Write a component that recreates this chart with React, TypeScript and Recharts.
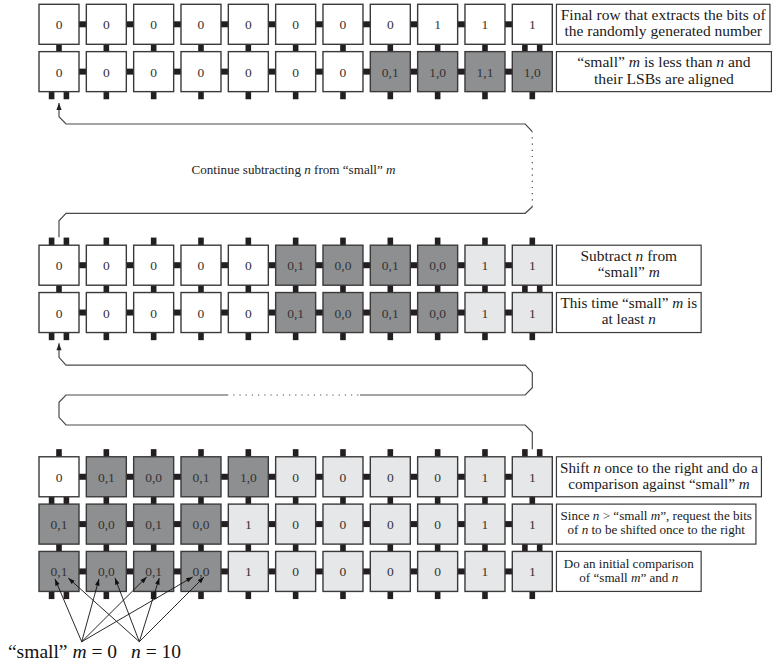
import React from 'react';
import { ScatterChart, Scatter, XAxis, YAxis } from 'recharts';

// ---------- layout / scale constants ----------
const W = 773;
const H = 667;
const PITCH = 47.33; // px per grid unit (same on both axes)
const ORIGIN_X = 59;
const ORIGIN_Y = 24.3;
const X_DOMAIN: [number, number] = [-ORIGIN_X / PITCH, (W - ORIGIN_X) / PITCH];
const Y_DOMAIN: [number, number] = [-ORIGIN_Y / PITCH, (H - ORIGIN_Y) / PITCH];

// ---------- data ----------
const COLUMNS = [0, 1, 2, 3, 4, 5, 6, 7, 8, 9, 10];
const ROW_LEVELS = [0, 1, 5.09, 6.09, 9.56, 10.56, 11.56];

const CELL_VALUES = [
  ['0', '0', '0', '0', '0', '0', '0', '0', '1', '1', '1'],
  ['0', '0', '0', '0', '0', '0', '0', '0,1', '1,0', '1,1', '1,0'],
  ['0', '0', '0', '0', '0', '0,1', '0,0', '0,1', '0,0', '1', '1'],
  ['0', '0', '0', '0', '0', '0,1', '0,0', '0,1', '0,0', '1', '1'],
  ['0', '0,1', '0,0', '0,1', '1,0', '0', '0', '0', '0', '1', '1'],
  ['0,1', '0,0', '0,1', '0,0', '1', '0', '0', '0', '0', '1', '1'],
  ['0,1', '0,0', '0,1', '0,0', '1', '0', '0', '0', '0', '1', '1'],
];
const CELL_SHADES = [
  'wwwwwwwwwww',
  'wwwwwwwdddd',
  'wwwwwddddll',
  'wwwwwddddll',
  'wddddllllll',
  'ddddlllllll',
  'ddddlllllll',
];
const HAS_TOP_STUB = [false, false, true, false, true, false, false];
const DOUBLE_TOP_COL = [-1, -1, 0, -1, 10, -1, -1];
const DOUBLE_BOTTOM_COL = [10, 0, 10, 0, 0, 10, 0];

const ROW_LABELS = [
  ['Final row that extracts the bits of', 'the randomly generated number'],
  ['\u201csmall\u201d *m* is less than *n* and', 'their LSBs are aligned'],
  ['Subtract *n* from', '\u201csmall\u201d *m*'],
  ['This time \u201csmall\u201d *m* is', 'at least *n*'],
  ['Shift *n* once to the right and do a', 'comparison against \u201csmall\u201d *m*'],
  ['Since *n* > \u201csmall *m*\u201d, request the bits', 'of *n* to be shifted once to the right'],
  ['Do an initial comparison', 'of \u201csmall *m*\u201d and *n*'],
];
const LABEL_COL = 10.51;

const LOOP_NOTE = 'Continue subtracting *n* from \u201csmall\u201d *m*';
const LOOP_NOTE_POS = { x: 4.955, y: 3.078 };

// snake paths (grid units)
const UPPER_SOLID_A = [
  { x: 0, y: 4.5 }, { x: 0, y: 4.15 }, { x: 0.148, y: 3.993 }, { x: 9.85, y: 3.993 }, { x: 10, y: 3.854 },
];
const UPPER_DOTTED = [{ x: 10, y: 3.854 }, { x: 10, y: 2.269 }];
const UPPER_SOLID_B = [
  { x: 10, y: 2.269 }, { x: 9.85, y: 2.106 }, { x: 0.148, y: 2.106 }, { x: 0, y: 1.952 }, { x: 0, y: 1.663 },
];
const LOWER_SOLID_A = [
  { x: 10, y: 8.977 }, { x: 10, y: 8.62 }, { x: 9.85, y: 8.466 }, { x: 0.148, y: 8.466 }, { x: 0, y: 8.303 },
  { x: 0, y: 7.986 }, { x: 0.148, y: 7.832 }, { x: 3.55, y: 7.832 },
];
const LOWER_DOTTED = [{ x: 3.55, y: 7.832 }, { x: 6.36, y: 7.832 }];
const LOWER_SOLID_B = [
  { x: 6.36, y: 7.832 }, { x: 9.85, y: 7.832 }, { x: 10, y: 7.678 }, { x: 10, y: 7.361 }, { x: 9.85, y: 7.199 },
  { x: 0.148, y: 7.199 }, { x: 0, y: 7.036 }, { x: 0, y: 6.74 },
];

// pointers from caption to cells
const M_SOURCE = { x: 0.48, y: 13.045 };
const N_SOURCE = { x: 1.697, y: 13.045 };
const M_TARGETS = [
  { x: -0.085, y: 11.72 }, { x: 0.845, y: 11.72 }, { x: 1.853, y: 11.677 }, { x: 2.825, y: 11.677 },
];
const N_TARGETS = [
  { x: 0.196, y: 11.7 }, { x: 1.183, y: 11.7 }, { x: 2.119, y: 11.7 }, { x: 3.064, y: 11.677 },
];
const CAPTION_POS = { x: -1.078, y: 13.38 };

// ---------- styles ----------
const FONT = '"Liberation Serif", "Times New Roman", serif';
const CONNECT = '#231f20';
const BORDER = '#3a3a3a';
const LINE = '#4a4a4a';
const SHADE_FILL: Record<string, string> = { w: '#ffffff', d: '#8e8f91', l: '#e6e7e8' };
const LABEL_WIDTHS = [213.5, 215, 144.7, 144.7, 205, 199.5, 144.7];
const LABEL_FONTS = [15.5, 15.6, 15.4, 15.2, 15.1, 13.1, 13.1];
const LABEL_LINE_H = [16.5, 16.2, 15.8, 15.8, 16, 13.8, 14.2];
const CELL = 40;

// ---------- helpers ----------
function rich(s: string) {
  return s.split('*').map((seg, i) =>
    i % 2 === 1 ? (
      <tspan key={i} fontStyle="italic">{seg}</tspan>
    ) : (
      <tspan key={i}>{seg}</tspan>
    )
  );
}

function withHead(pts: { x: number; y: number }[]) {
  const n = pts.length;
  const last = pts[n - 1];
  const prev = pts[n - 2];
  return pts.map((p, i) =>
    i === n - 1 ? { ...p, head: true, dx: last.x - prev.x, dy: last.y - prev.y } : { ...p }
  );
}

const cellData = ROW_LEVELS.flatMap((level, r) =>
  COLUMNS.map((c) => ({
    x: c,
    y: level,
    row: r,
    col: c,
    value: CELL_VALUES[r][c],
    shade: CELL_SHADES[r][c],
  }))
);

const labelData = ROW_LEVELS.map((level, r) => ({ x: LABEL_COL, y: level, row: r }));

function CellShape(props: any) {
  const { cx, cy, payload } = props;
  if (cx == null || cy == null) return <g />;
  const half = CELL / 2;
  const gap = PITCH - CELL;
  const parts: any[] = [];
  const r = payload.row;
  const c = payload.col;
  if (c < COLUMNS.length - 1) {
    parts.push(<rect key="h" x={cx + half - 0.5} y={cy - 3} width={gap + 1} height={6} fill={CONNECT} />);
  }
  const xs = (dbl: boolean) => (dbl ? [cx - 7.4, cx + 7.4] : [cx]);
  xs(DOUBLE_BOTTOM_COL[r] === c).forEach((sx, i) =>
    parts.push(<rect key={'b' + i} x={sx - 2.8} y={cy + half - 0.5} width={5.6} height={gap + 0.8} fill={CONNECT} />)
  );
  if (HAS_TOP_STUB[r]) {
    xs(DOUBLE_TOP_COL[r] === c).forEach((sx, i) =>
      parts.push(
        <rect key={'t' + i} x={sx - 2.8} y={cy - half - gap - 0.3} width={5.6} height={gap + 0.8} fill={CONNECT} />
      )
    );
  }
  parts.push(
    <rect
      key="c"
      x={cx - half}
      y={cy - half}
      width={CELL}
      height={CELL}
      fill={SHADE_FILL[payload.shade]}
      stroke={BORDER}
      strokeWidth={1.4}
    />
  );
  parts.push(
    <text key="v" x={cx} y={cy + 5} textAnchor="middle" fontFamily={FONT} fontSize={13.5} fill="#333">
      {payload.value}
    </text>
  );
  return <g>{parts}</g>;
}

function LabelShape(props: any) {
  const { cx, cy, payload } = props;
  if (cx == null || cy == null) return <g />;
  const r = payload.row;
  const w = LABEL_WIDTHS[r];
  const fs = LABEL_FONTS[r];
  const lh = LABEL_LINE_H[r];
  return (
    <g>
      <rect x={cx} y={cy - CELL / 2} width={w} height={CELL} fill="#fff" stroke={BORDER} strokeWidth={1.2} />
      {ROW_LABELS[r].map((ln, i) => (
        <text
          key={i}
          x={cx + w / 2}
          y={cy + (i - 0.5) * lh + fs * 0.25}
          textAnchor="middle"
          fontFamily={FONT}
          fontSize={fs}
          fill="#1a1a1a"
        >
          {rich(ln)}
        </text>
      ))}
    </g>
  );
}

function headShape(len: number, hw: number, color: string) {
  return (props: any) => {
    const { cx, cy, payload } = props;
    if (!payload || !payload.head || cx == null) return <g />;
    const d = Math.hypot(payload.dx, payload.dy) || 1;
    const ux = payload.dx / d;
    const uy = payload.dy / d;
    const bx = cx - ux * len;
    const by = cy - uy * len;
    const pts = `${cx},${cy} ${bx - uy * hw},${by + ux * hw} ${bx + uy * hw},${by - ux * hw}`;
    return <polygon points={pts} fill={color} />;
  };
}

const emptyShape = () => <g />;

function NoteShape(props: any) {
  const { cx, cy } = props;
  if (cx == null) return <g />;
  return (
    <text x={cx} y={cy + 4} textAnchor="middle" fontFamily={FONT} fontSize={13.1} fill="#222">
      {rich(LOOP_NOTE)}
    </text>
  );
}

function CaptionShape(props: any) {
  const { cx, cy } = props;
  if (cx == null) return <g />;
  return (
    <text x={cx} y={cy} textAnchor="start" fontFamily={FONT} fontSize={19.5} fill="#111">
      <tspan>{'\u201csmall\u201d '}</tspan>
      <tspan fontStyle="italic">m</tspan>
      <tspan>{' = 0'}</tspan>
      <tspan dx={14} fontStyle="italic">n</tspan>
      <tspan>{' = 10'}</tspan>
    </text>
  );
}

const solidLine = { stroke: LINE, strokeWidth: 1.2 };
const dottedLine = { stroke: LINE, strokeWidth: 1.2, strokeDasharray: '1.2 5' };
const pointerLine = { stroke: '#111', strokeWidth: 0.9 };

export default function App() {
  const pointers = [
    ...M_TARGETS.map((t) => withHead([M_SOURCE, t])),
    ...N_TARGETS.map((t) => withHead([N_SOURCE, t])),
  ];
  return (
    <div style={{ position: 'absolute', left: 0, top: 0, width: W, height: H, background: '#fff' }}>
      <ScatterChart width={W} height={H} margin={{ top: 0, right: 0, bottom: 0, left: 0 }}>
        <XAxis type="number" dataKey="x" domain={X_DOMAIN} allowDataOverflow hide />
        <YAxis type="number" dataKey="y" domain={Y_DOMAIN} allowDataOverflow reversed hide />
        <Scatter data={UPPER_SOLID_A} line={solidLine} shape={emptyShape} fill={LINE} isAnimationActive={false} />
        <Scatter data={UPPER_DOTTED} line={dottedLine} shape={emptyShape} fill={LINE} isAnimationActive={false} />
        <Scatter
          data={withHead(UPPER_SOLID_B)}
          line={solidLine}
          shape={headShape(7, 2.6, '#222')}
          fill={LINE}
          isAnimationActive={false}
        />
        <Scatter data={LOWER_SOLID_A} line={solidLine} shape={emptyShape} fill={LINE} isAnimationActive={false} />
        <Scatter data={LOWER_DOTTED} line={dottedLine} shape={emptyShape} fill={LINE} isAnimationActive={false} />
        <Scatter
          data={withHead(LOWER_SOLID_B)}
          line={solidLine}
          shape={headShape(7, 2.6, '#222')}
          fill={LINE}
          isAnimationActive={false}
        />
        <Scatter data={cellData} shape={CellShape} isAnimationActive={false} />
        <Scatter data={labelData} shape={LabelShape} isAnimationActive={false} />
        <Scatter data={[LOOP_NOTE_POS]} shape={NoteShape} isAnimationActive={false} />
        {pointers.map((p, i) => (
          <Scatter
            key={i}
            data={p}
            line={pointerLine}
            shape={headShape(6.5, 2.3, '#111')}
            fill="#111"
            isAnimationActive={false}
          />
        ))}
        <Scatter data={[CAPTION_POS]} shape={CaptionShape} isAnimationActive={false} />
      </ScatterChart>
    </div>
  );
}
